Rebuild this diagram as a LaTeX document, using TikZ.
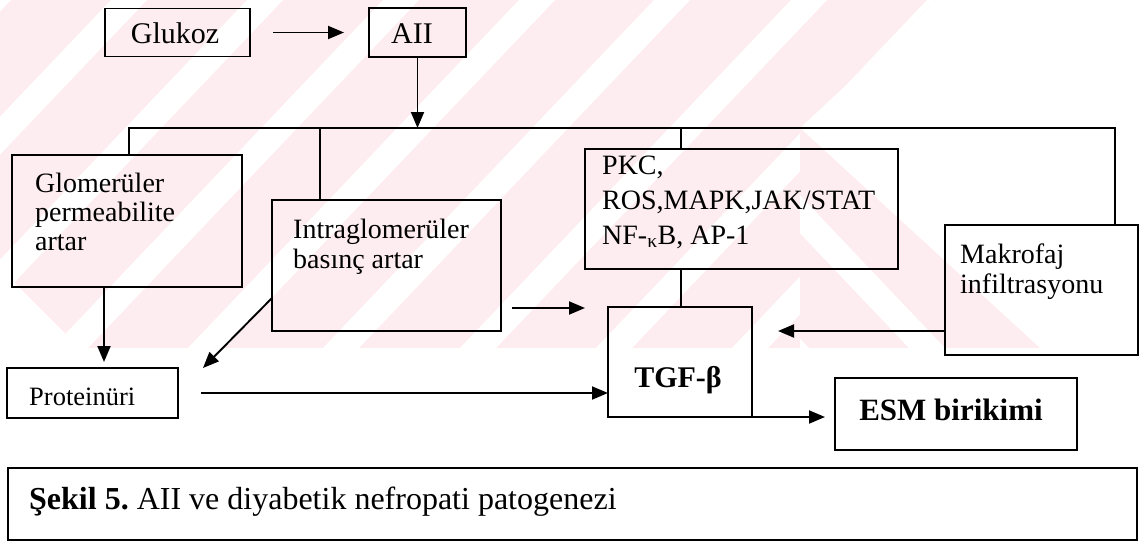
\documentclass[tikz,border=0pt]{standalone}
\usepackage{fontspec}
\setmainfont{Liberation Serif}
\usetikzlibrary{arrows.meta,calc}
\definecolor{wm}{RGB}{253,237,240}
\newcommand\fs[1]{\fontsize{#1}{#1}\selectfont}
\frenchspacing
\tikzset{
  box/.style={draw, line width=1.9pt, inner sep=0pt, outer sep=0pt},
  ln/.style={line width=1.9pt},
  arr/.style={ln, -{Triangle[length=16pt,width=13pt]}},
  txt/.style={inner sep=0pt, anchor=base west, font=\fs{28}},
}
\begin{document}
\begin{tikzpicture}[x=1pt,y=-1pt]
\useasboundingbox (0,0) rectangle (1142,543);
% watermark
\begin{scope}
  \clip (0,0) -- (937,0) -- (800,128) -- (1040,348) -- (80,348) -- (0,268) -- cycle;
  \fill[wm] (0,0) rectangle (1142,348);
  \begin{scope}
    \clip (0,0) -- (937,0) -- (800,128) -- (800,348) -- (0,348) -- cycle;
    \foreach \c in {-25,111,247,383,519,654,791,927,1063}{
      \fill[white] (\c,0) -- (\c+36,0) -- (\c+36-331,348) -- (\c-331,348) -- cycle;}
  \end{scope}
  \begin{scope}
    \clip (800,128) -- (1040,348) -- (800,348) -- cycle;
    \foreach \c in {564,700,836}{
      \fill[white] (\c,128) -- (\c+36,128) -- (\c+36+209,348) -- (\c+209,348) -- cycle;}
  \end{scope}
\end{scope}
% boxes
\node[box, minimum width=145pt, minimum height=48pt] (g) at (177.5,32.5) {};
\node[box, minimum width=97pt, minimum height=49pt] (a) at (417.5,32.5) {};
\node[box, minimum width=230pt, minimum height=132pt] (glom) at (127,221) {};
\node[box, minimum width=229pt, minimum height=131pt] (intra) at (386.5,265.5) {};
\node[box, minimum width=313pt, minimum height=120pt] (pkc) at (741.5,209) {};
\node[box, minimum width=193pt, minimum height=130pt] (mak) at (1041.5,290) {};
\node[box, minimum width=144pt, minimum height=110pt] (tgf) at (680,362) {};
\node[box, minimum width=242pt, minimum height=72pt] (esm) at (956,414) {};
\node[box, minimum width=171pt, minimum height=50pt] (prot) at (92.5,393) {};
\node[box, minimum width=1129pt, minimum height=72pt] (cap) at (572.5,504) {};
% texts
\node[txt, anchor=base, font=\fs{30}] (tg) at (175,44) {Glukoz};
\node[txt, anchor=base, font=\fs{30}] (ta) at (412,44) {AII};
\node[txt] (tglom1) at (35,192) {Glomerüler};
\node[txt] (tglom2) at (35,221) {permeabilite};
\node[txt] (tglom3) at (35,250) {artar};
\node[txt] (tint1) at (293,238) {Intraglomerüler};
\node[txt] (tint2) at (293,268) {basınç artar};
\node[txt] (tpkc1) at (602,174) {PKC,};
\node[txt] (tpkc2) at (602,209) {ROS,MAPK,JAK/STAT};
\node[txt] (tpkc3) at (602,244) {NF-\textsubscript{κ}B, AP-1};
\node[txt] (tmak1) at (960,263) {Makrofaj};
\node[txt] (tmak2) at (960,293) {infiltrasyonu};
\node[txt, font=\fs{26.5}] (tprot) at (29,405) {Proteinüri};
\node[txt, anchor=base, font=\fs{30}\bfseries] (ttgf) at (678,387) {TGF-β};
\node[txt, anchor=base, font=\fs{31}\bfseries] (tesm) at (951,420) {ESM birikimi};
\node[txt, font=\fs{32}] (tcap) at (29,509) {\textbf{Şekil 5.} AII ve diyabetik nefropati patogenezi};
% connectors
\coordinate (bl) at (129,128);
\coordinate (br) at (1115,128);
\coordinate (d2) at (320,128);
\coordinate (d3) at (681,128);
\draw[ln] (bl |- glom.north) -- (bl) -- (br) -- (br |- mak.north);
\draw[ln] (d2) -- (d2 |- intra.north);
\draw[ln] (d3) -- (d3 |- pkc.north);
\draw[arr] (a.south) -- (a.south |- bl);
\draw[arr] ($(g.east)+(23,0)$) -- ($(a.west)+(-25,0)$);
\coordinate (gp) at (104,362);
\draw[arr] (gp |- glom.south) -- (gp);
\coordinate (ip) at (203,368);
\draw[arr] ($(intra.west)+(0,32.5)$) -- (ip);
\coordinate (im) at (585,308);
\draw[arr] ($(intra.east |- im)+(11,0)$) -- (im);
\draw[arr] ($(prot.east)+(23,0)$) -- (prot.east -| tgf.west);
\coordinate (mt) at (778,331);
\draw[arr] (mak.west |- mt) -- (mt);
\draw[ln] (d3 |- pkc.south) -- (d3 |- tgf.north);
\draw[arr] (tgf.south east) -- ($(tgf.south east -| esm.west)+(-10,0)$);
\end{tikzpicture}
\end{document}
